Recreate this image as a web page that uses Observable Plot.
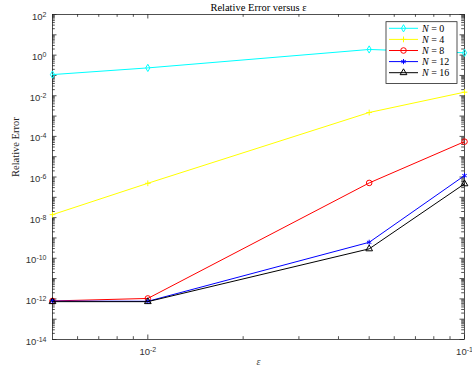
<!DOCTYPE html>
<html><head><meta charset="utf-8">
<script src="https://cdn.jsdelivr.net/npm/d3@7"></script>
<script src="https://cdn.jsdelivr.net/npm/@observablehq/plot@0.6"></script>
<style>body{margin:0;background:#fff} svg{display:block}</style>
</head><body><div id="chart"></div>
<script>
// ---- data ----
const epsilon = [0.005, 0.01, 0.05, 0.1];
const seriesNames = ["N = 0", "N = 4", "N = 8", "N = 12", "N = 16"];
const errN0  = [0.11, 0.235, 1.9, 1.3];
const errN4  = [1.4e-8, 4.9e-7, 1.5e-3, 1.5e-2];
const errN8  = [7.9e-13, 1.05e-12, 5.1e-7, 5.5e-5];
const errN12 = [7.8e-13, 7.6e-13, 6.1e-10, 1.17e-6];
const errN16 = [7.3e-13, 7.3e-13, 2.9e-10, 4.6e-7];
const seriesValues = [errN0, errN4, errN8, errN12, errN16];
const colors = ["#00ffff", "#ffff00", "#ff0000", "#0000ff", "#000000"];
const symbols = ["diamond", "plus", "circle", "asterisk", "triangle"];
const symbolR = [2.2, 2, 2.8, 2.4, 2.5];
const xTickValues = [0.01, 0.1];
const yTickExps = [2, 0, -2, -4, -6, -8, -10, -12, -14];
const titleText = "Relative Error versus ε";
const yLabelText = "Relative Error";
const xLabelText = "ε";

// ---- layout ----
const W = 472, H = 375;
const mL = 52, mR = 8, mT = 14, mB = 36;
const iw = W - mL - mR, ih = H - mT - mB;
const axisColor = "#262626";

const rows = [];
seriesNames.forEach((s, i) => epsilon.forEach((e, j) => rows.push({series: s, eps: e, err: seriesValues[i][j]})));

const yMajor = d3.range(-14, 3).map(k => Math.pow(10, k));
const yMinor = [];
for (let k = -14; k < 2; k++) for (let m = 2; m <= 9; m++) yMinor.push(m * Math.pow(10, k));
const xMajor = xTickValues;
const xMinor = [];
for (let k = -3; k < -1; k++) for (let m = 2; m <= 9; m++) { const v = m * Math.pow(10, k); if (v > 0.005 && v < 0.1) xMinor.push(v); }

const majL = 4.5, minL = 2.8;
const tickStyle = {stroke: axisColor, strokeWidth: 0.8};

const marks = [
  Plot.frame({stroke: axisColor, strokeWidth: 0.8}),
  // y ticks left/right
  Plot.tickY(yMajor, {y: d => d, insetRight: iw - majL, ...tickStyle}),
  Plot.tickY(yMajor, {y: d => d, insetLeft: iw - majL, ...tickStyle}),
  Plot.tickY(yMinor, {y: d => d, insetRight: iw - minL, ...tickStyle}),
  Plot.tickY(yMinor, {y: d => d, insetLeft: iw - minL, ...tickStyle}),
  // x ticks bottom/top
  Plot.tickX(xMajor, {x: d => d, insetTop: ih - majL, ...tickStyle}),
  Plot.tickX(xMajor, {x: d => d, insetBottom: ih - majL, ...tickStyle}),
  Plot.tickX(xMinor, {x: d => d, insetTop: ih - minL, ...tickStyle}),
  Plot.tickX(xMinor, {x: d => d, insetBottom: ih - minL, ...tickStyle}),
  Plot.axisX({ticks: xTickValues, tickSize: 0, tickPadding: 9, label: null, tickFormat: d => "10^" + Math.round(Math.log10(d)), fill: "#333"}),
  Plot.axisY({ticks: yTickExps.map(k => Math.pow(10, k)), tickSize: 0, tickPadding: 6, dy: 2, label: null, tickFormat: d => "10^" + Math.round(Math.log10(d)), fill: "#333"}),
];

seriesNames.forEach((s, i) => {
  const data = rows.filter(r => r.series === s);
  marks.push(Plot.line(data, {x: "eps", y: "err", stroke: colors[i], strokeWidth: 1}));
  marks.push(Plot.dot(data, {x: "eps", y: "err", stroke: colors[i], fill: "none", symbol: () => symbols[i], r: symbolR[i], strokeWidth: 1}));
});

marks.push(Plot.text([titleText], {frameAnchor: "top", dy: -4, lineAnchor: "bottom", fontFamily: "Liberation Serif, serif", fontSize: 10.5, fill: "#000"}));
marks.push(Plot.text([yLabelText], {frameAnchor: "left", dx: -37, rotate: -90, fontFamily: "Liberation Serif, serif", fontSize: 10.5, fill: "#222"}));
marks.push(Plot.text([xLabelText], {frameAnchor: "bottom", dy: 25, fontFamily: "Liberation Serif, serif", fontStyle: "italic", fontSize: 10, fill: "#444"}));

const chart = Plot.plot({
  width: W, height: H,
  marginLeft: mL, marginRight: mR, marginTop: mT, marginBottom: mB,
  style: {fontFamily: "Liberation Sans, Arial, sans-serif", fontSize: "9.5px", background: "#fff"},
  x: {type: "log", domain: [0.005, 0.1], label: null},
  y: {type: "log", domain: [1e-14, 1e2], label: null},
  symbol: {type: "identity"},
  marks
});
document.getElementById("chart").appendChild(chart);

// superscript the tick labels
const svg = d3.select(chart);
svg.selectAll('g[aria-label="x-axis tick label"] text, g[aria-label="y-axis tick label"] text').each(function () {
  const t = d3.select(this);
  const s = t.text();
  const [base, exp] = s.split("^");
  t.text(null);
  t.append("tspan").text(base);
  t.append("tspan").attr("dy", "-0.42em").attr("font-size", "7px").text(exp.replace("\u2212", "-"));
});

// legend
const lg = svg.append("g").attr("class", "legend").attr("text-anchor", "start");
const lx0 = mL + iw - 7 - 71, ly0 = mT + 7.7, lw = 71, rowH = 11.1;
lg.append("rect").attr("x", lx0).attr("y", ly0).attr("width", lw).attr("height", rowH * seriesNames.length + 6.3)
  .attr("fill", "#fff").attr("stroke", axisColor).attr("stroke-width", 0.8);
const symMap = {diamond: d3.symbolDiamond, plus: d3.symbolPlus, circle: d3.symbolCircle, asterisk: d3.symbolAsterisk, triangle: d3.symbolTriangle};
seriesNames.forEach((s, i) => {
  const cy = ly0 + 6.6 + i * rowH;
  lg.append("line").attr("x1", lx0 + 3).attr("x2", lx0 + 32).attr("y1", cy).attr("y2", cy).attr("stroke", colors[i]).attr("stroke-width", 1);
  lg.append("path").attr("transform", `translate(${lx0 + 17.5},${cy})`)
    .attr("d", d3.symbol(symMap[symbols[i]], Math.PI * symbolR[i] * symbolR[i])())
    .attr("fill", "none").attr("stroke", colors[i]).attr("stroke-width", 1);
  const [nm, rest] = s.split(" = ");
  const tx = lg.append("text").attr("x", lx0 + 36).attr("y", cy).attr("dy", "0.35em")
    .attr("font-family", "Liberation Serif, serif").attr("font-size", 10).attr("fill", "#000");
  tx.append("tspan").attr("font-style", "italic").text(nm);
  tx.append("tspan").text(" = " + rest);
});
</script>
</body></html>
